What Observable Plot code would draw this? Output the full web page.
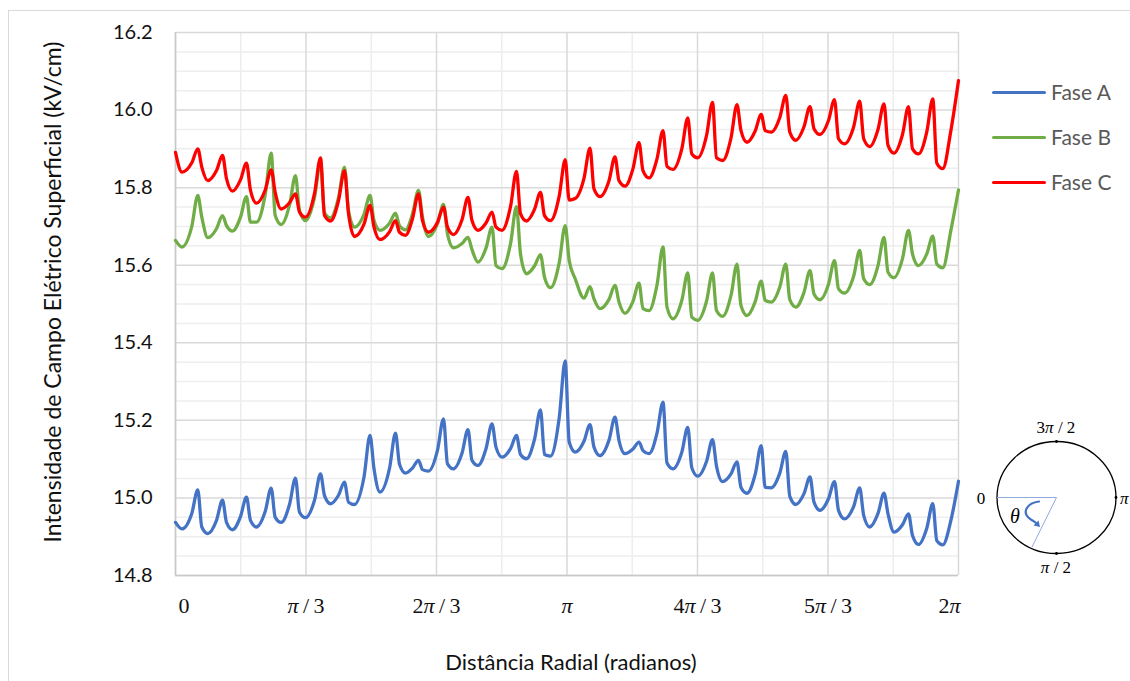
<!DOCTYPE html>
<html>
<head>
<meta charset="utf-8">
<script src="https://cdn.jsdelivr.net/npm/d3@7"></script>
<script src="https://cdn.jsdelivr.net/npm/@observablehq/plot@0.6"></script>
<style>
html, body { margin: 0; padding: 0; background: #fff; overflow: hidden; }
#wrap { position: relative; width: 1130px; height: 681px; overflow: hidden; font-family: Lato, "Open Sans", sans-serif; }
#frame { position: absolute; left: 8px; top: 10px; width: 1200px; height: 800px; border: 1.5px solid #d9d9d9; box-sizing: border-box; }
#chart { position: absolute; left: 0; top: 0; }
#legend { position: absolute; left: 992px; top: 0; }
.lg { position: absolute; left: 0; width: 140px; height: 24px; }
.lg .sw { position: absolute; left: 0; top: 10.5px; width: 54px; height: 3px; border-radius: 1.5px; }
.lg .lb { position: absolute; left: 59px; top: 0; font-size: 21px; line-height: 24px; color: #595959; white-space: nowrap; }
#diagram { position: absolute; left: 0; top: 0; pointer-events: none; }
</style>
</head>
<body>
<div id="wrap">
  <div id="frame"></div>
  <div id="chart"></div>
  <div id="legend"></div>
  <svg id="diagram" width="1130" height="681" xmlns="http://www.w3.org/2000/svg">
    <ellipse cx="1056.5" cy="497.5" rx="59.5" ry="56" fill="none" stroke="#000" stroke-width="1.3"/>
    <line x1="997" y1="497.5" x2="1056.5" y2="497.5" stroke="#8eaadb" stroke-width="1"/>
    <line x1="1056.5" y1="497.5" x2="1032" y2="547" stroke="#8eaadb" stroke-width="1"/>
    <circle cx="1056.5" cy="441.5" r="1.4" fill="#000"/>
    <circle cx="1056.5" cy="553.5" r="1.4" fill="#000"/>
    <circle cx="1116" cy="497.5" r="1.4" fill="#000"/>
    <path d="M1039,501.5 C1027,503 1022,512 1029,518 C1031,520 1034,521 1036,523" fill="none" stroke="#4472C4" stroke-width="2.2" stroke-linecap="round"/>
    <path d="M1033.5,525.5 L1040,527 L1038.5,520.5 Z" fill="#4472C4"/>
    <text x="1056" y="433" text-anchor="middle" font-family="Liberation Serif, serif" font-size="17" fill="#000">3<tspan font-style="italic">π</tspan> / 2</text>
    <text x="1056" y="573" text-anchor="middle" font-family="Liberation Serif, serif" font-size="17" fill="#000"><tspan font-style="italic">π</tspan> / 2</text>
    <text x="981" y="504" text-anchor="middle" font-family="Liberation Serif, serif" font-size="17" fill="#000">0</text>
    <text x="1120" y="504" text-anchor="start" font-family="Liberation Serif, serif" font-size="17" font-style="italic" fill="#000">π</text>
    <text x="1015" y="523" text-anchor="middle" font-family="Liberation Serif, serif" font-size="20" font-style="italic" fill="#000">θ</text>
  </svg>
</div>
<script>
// ---- data (x in degrees, 360 = 2π) ----
const angle = [0, 3,
  7.49, 10.25, 12.09, 14.85,
  18.85, 21.61, 23.45, 26.21,
  29.88, 32.64, 34.48, 37.24,
  41.24, 44.00, 45.84, 48.60,
  52.41, 55.17, 57.01, 59.77,
  63.91, 66.67, 68.51, 71.27,
  74.94, 77.70, 79.54, 82.30,
  86.67, 89.43, 91.27, 94.03,
  98.39, 101.15, 102.99, 105.75,
  108.96, 111.72, 113.56, 116.32,
  120.46, 123.22, 125.06, 127.82,
  131.72, 134.48, 136.32, 139.08,
  142.76, 145.52, 147.36, 150.12,
  154.02, 156.78, 158.62, 161.38,
  165.06, 167.82, 169.66, 172.42,
  176.41, 179.17, 181.01, 183.77,
  187.81, 190.57, 192.41, 195.17,
  199.31, 202.07, 203.91, 206.67,
  210.34, 213.10, 214.94, 217.70,
  221.38, 224.14, 225.98, 228.74,
  232.78, 235.54, 237.38, 240.14,
  244.14, 246.90, 248.74, 251.50,
  255.40, 258.16, 260.00, 262.76,
  266.53, 269.29, 271.13, 273.89,
  277.84, 280.60, 282.44, 285.20,
  288.96, 291.72, 293.56, 296.32,
  300.23, 302.99, 304.83, 307.59,
  311.81, 314.57, 316.41, 319.17,
  322.99, 325.75, 327.59, 330.35,
  334.25, 337.01, 338.85, 341.61,
  345.42, 348.18, 350.02, 352.78,
  356.5, 360];

const faseA = [14.937, 14.920,
  14.960, 15.021, 14.925, 14.908,
  14.942, 14.994, 14.937, 14.918,
  14.952, 15.002, 14.942, 14.925,
  14.965, 15.025, 14.950, 14.937,
  14.983, 15.051, 14.963, 14.949,
  14.994, 15.062, 15.006, 14.985,
  15.007, 15.041, 14.989, 14.983,
  15.054, 15.161, 15.075, 15.015,
  15.076, 15.167, 15.087, 15.064,
  15.077, 15.097, 15.073, 15.069,
  15.123, 15.204, 15.088, 15.075,
  15.115, 15.176, 15.097, 15.084,
  15.127, 15.191, 15.131, 15.105,
  15.127, 15.161, 15.112, 15.101,
  15.151, 15.227, 15.112, 15.108,
  15.206, 15.353, 15.144, 15.118,
  15.146, 15.189, 15.131, 15.109,
  15.149, 15.208, 15.148, 15.114,
  15.126, 15.144, 15.122, 15.114,
  15.167, 15.247, 15.090, 15.075,
  15.118, 15.182, 15.078, 15.056,
  15.094, 15.150, 15.082, 15.042,
  15.062, 15.093, 15.027, 15.012,
  15.061, 15.135, 15.027, 15.026,
  15.064, 15.120, 15.004, 14.983,
  15.011, 15.054, 14.989, 14.968,
  14.998, 15.042, 14.968, 14.946,
  14.978, 15.026, 14.955, 14.925,
  14.960, 15.012, 14.959, 14.912,
  14.931, 14.959, 14.903, 14.880,
  14.922, 14.985, 14.890, 14.879,
  14.942, 15.043];

const faseB = [15.664, 15.647,
  15.700, 15.780, 15.724, 15.671,
  15.694, 15.728, 15.702, 15.688,
  15.724, 15.777, 15.711, 15.711,
  15.782, 15.889, 15.728, 15.705,
  15.755, 15.831, 15.741, 15.715,
  15.775, 15.865, 15.735, 15.722,
  15.774, 15.853, 15.741, 15.698,
  15.731, 15.780, 15.715, 15.690,
  15.708, 15.734, 15.702, 15.691,
  15.732, 15.793, 15.724, 15.674,
  15.707, 15.757, 15.681, 15.645,
  15.656, 15.672, 15.640, 15.608,
  15.644, 15.698, 15.599, 15.591,
  15.655, 15.751, 15.629, 15.578,
  15.598, 15.627, 15.569, 15.542,
  15.606, 15.702, 15.612, 15.565,
  15.515, 15.545, 15.513, 15.488,
  15.512, 15.548, 15.505, 15.476,
  15.507, 15.554, 15.488, 15.483,
  15.549, 15.647, 15.492, 15.462,
  15.509, 15.580, 15.466, 15.458,
  15.507, 15.580, 15.483, 15.468,
  15.522, 15.603, 15.496, 15.470,
  15.506, 15.559, 15.509, 15.505,
  15.544, 15.603, 15.511, 15.492,
  15.530, 15.586, 15.526, 15.511,
  15.551, 15.612, 15.539, 15.528,
  15.572, 15.638, 15.565, 15.550,
  15.599, 15.672, 15.582, 15.568,
  15.617, 15.690, 15.629, 15.599,
  15.629, 15.675, 15.603, 15.593,
  15.690, 15.794];

const faseC = [15.891, 15.840,
  15.864, 15.900, 15.853, 15.818,
  15.844, 15.883, 15.823, 15.791,
  15.820, 15.863, 15.793, 15.760,
  15.794, 15.846, 15.788, 15.745,
  15.761, 15.784, 15.737, 15.724,
  15.785, 15.877, 15.728, 15.714,
  15.766, 15.844, 15.733, 15.674,
  15.706, 15.754, 15.698, 15.666,
  15.686, 15.715, 15.685, 15.677,
  15.720, 15.784, 15.715, 15.685,
  15.711, 15.750, 15.698, 15.679,
  15.717, 15.775, 15.715, 15.690,
  15.709, 15.737, 15.698, 15.690,
  15.751, 15.842, 15.733, 15.714,
  15.744, 15.788, 15.728, 15.715,
  15.778, 15.872, 15.768, 15.772,
  15.824, 15.902, 15.797, 15.777,
  15.818, 15.879, 15.818, 15.804,
  15.849, 15.916, 15.844, 15.825,
  15.874, 15.947, 15.855, 15.847,
  15.900, 15.980, 15.887, 15.877,
  15.934, 16.020, 15.877, 15.870,
  15.928, 16.014, 15.947, 15.917,
  15.946, 15.989, 15.947, 15.943,
  15.981, 16.038, 15.943, 15.922,
  15.957, 16.009, 15.952, 15.937,
  15.973, 16.027, 15.926, 15.913,
  15.957, 16.023, 15.926, 15.906,
  15.950, 16.016, 15.909, 15.889,
  15.937, 16.009, 15.900, 15.887,
  15.944, 16.029, 15.863, 15.849,
  15.947, 16.076];

const seriesNames = ["Fase A", "Fase B", "Fase C"];
const seriesColors = ["#4472C4", "#70AD47", "#FF0000"];
const xMajorTicks = [0, 60, 120, 180, 240, 300, 360];
const xMinorTicks = [30, 90, 150, 210, 270, 330];
const xTickLabels = ["0", "π/3", "2π/3", "π", "4π/3", "5π/3", "2π"];
const yMajorTicks = [14.8, 15.0, 15.2, 15.4, 15.6, 15.8, 16.0, 16.2];
const yMinorTicks = [14.85, 14.9, 14.95, 15.05, 15.1, 15.15, 15.25, 15.3, 15.35, 15.45, 15.5, 15.55,
                     15.65, 15.7, 15.75, 15.85, 15.9, 15.95, 16.05, 16.1, 16.15];
const yTitle = "Intensidade de Campo Elétrico Superficial (kV/cm)";
const xTitle = "Distância Radial (radianos)";

// ---- build rows ----
const seriesValues = [faseA, faseB, faseC];
const rows = [];
seriesValues.forEach((vals, s) => {
  angle.forEach((a, i) => rows.push({angle: a, value: vals[i], fase: seriesNames[s]}));
});
const idx = xMajorTicks.map((_, i) => i);
const midIdx = idx.slice(1, -1);
const tickFont = "Liberation Serif, serif";

const plot = Plot.plot({
  width: 1130,
  height: 681,
  marginLeft: 175,
  marginRight: 172,
  marginTop: 32,
  marginBottom: 106,
  style: {fontFamily: "Lato, 'Open Sans', sans-serif", fontSize: "20px", color: "#111", background: "transparent"},
  x: {domain: [0, 360], axis: null},
  y: {domain: [14.8, 16.2]},
  color: {domain: seriesNames, range: seriesColors},
  marks: [
    Plot.ruleX(xMinorTicks, {stroke: "#eeeeee", strokeWidth: 1.5}),
    Plot.ruleY(yMinorTicks, {stroke: "#eeeeee", strokeWidth: 1.5}),
    Plot.ruleX(xMajorTicks, {stroke: "#d9d9d9", strokeWidth: 1.5}),
    Plot.ruleY(yMajorTicks, {stroke: "#d9d9d9", strokeWidth: 1.5}),
    Plot.ruleX([0], {stroke: "#c8c8c8", strokeWidth: 1.5}),
    Plot.ruleY([14.8], {stroke: "#c8c8c8", strokeWidth: 1.5}),
    Plot.line(rows, {x: "angle", y: "value", z: "fase", stroke: "fase", strokeWidth: 3.3,
                     curve: "monotone-x", strokeLinejoin: "round", strokeLinecap: "round"}),
    Plot.axisY(yMajorTicks, {label: null, tickSize: 0, tickPadding: 23, tickFormat: d => d.toFixed(1), fontSize: 20, fill: "#111"}),
    // x tick labels
    Plot.text([0], {x: i => xMajorTicks[i], text: i => xTickLabels[i], frameAnchor: "bottom", dy: 30, dx: 3,
                    textAnchor: "start", lineAnchor: "middle", fontSize: 22, fill: "#111", fontFamily: tickFont}),
    Plot.text(midIdx, {x: i => xMajorTicks[i], text: i => xTickLabels[i], frameAnchor: "bottom", dy: 30,
                    textAnchor: "middle", lineAnchor: "middle", fontSize: 22, fill: "#111", fontFamily: tickFont}),
    Plot.text([6], {x: i => xMajorTicks[i], text: i => xTickLabels[i], frameAnchor: "bottom", dy: 30, dx: 2,
                    textAnchor: "end", lineAnchor: "middle", fontSize: 22, fill: "#111", fontFamily: tickFont}),
    // axis titles
    Plot.text([yTitle], {frameAnchor: "left", rotate: -90, dx: -122, dy: -12, fontSize: 23, fill: "#111",
                         textAnchor: "middle", lineAnchor: "middle"}),
    Plot.text([xTitle], {frameAnchor: "bottom", dy: 87, dx: 4, fontSize: 22, fill: "#111",
                         textAnchor: "middle", lineAnchor: "middle"})
  ]
});
document.getElementById("chart").appendChild(plot);

// italic π in x tick labels with a little spacing around the slash
plot.querySelectorAll("text").forEach(t => {
  const s = t.textContent;
  if (!s.includes("π")) return;
  while (t.firstChild) t.removeChild(t.firstChild);
  const ns = "http://www.w3.org/2000/svg";
  for (const ch of s) {
    const ts = document.createElementNS(ns, "tspan");
    if (ch === "π") { ts.setAttribute("font-style", "italic"); ts.textContent = ch; }
    else if (ch === "/") { ts.textContent = "\u2009/\u2009"; }
    else ts.textContent = ch;
    t.appendChild(ts);
  }
});

// legend
const legend = document.getElementById("legend");
const legendY = [92, 137, 182];
seriesNames.forEach((name, i) => {
  const d = document.createElement("div");
  d.className = "lg";
  d.style.top = (legendY[i] - 12) + "px";
  d.innerHTML = `<div class="sw" style="background:${seriesColors[i]}"></div><div class="lb">${name}</div>`;
  legend.appendChild(d);
});
</script>
</body>
</html>
